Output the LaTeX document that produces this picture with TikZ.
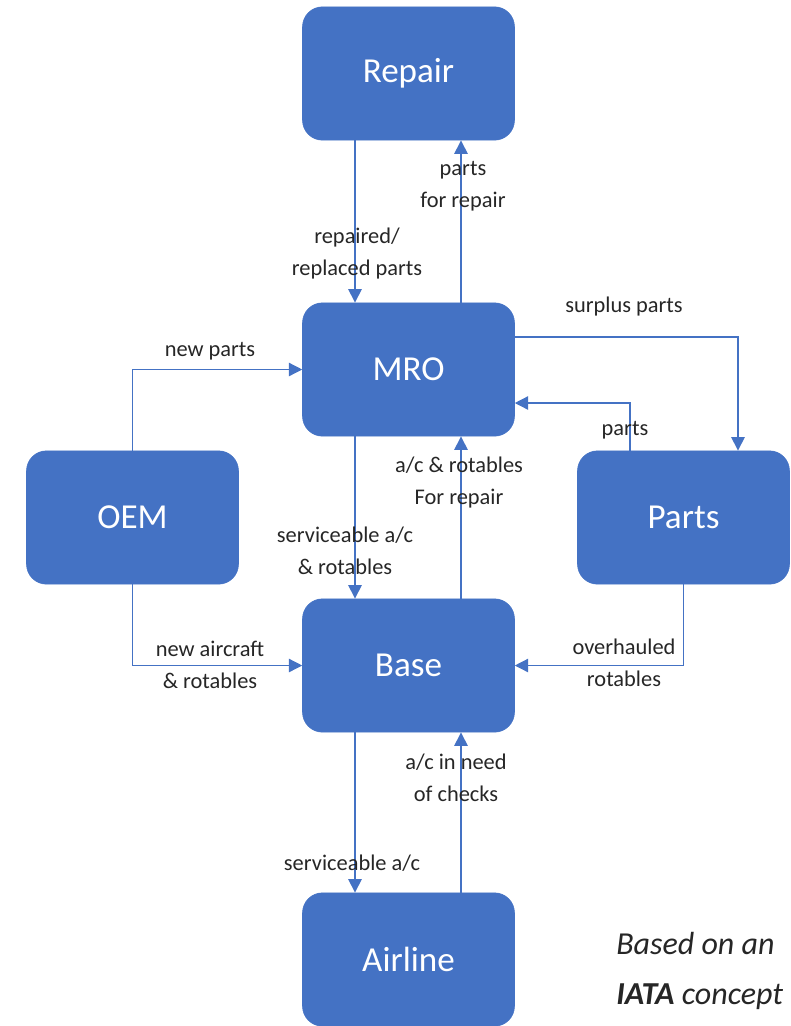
\documentclass[tikz,border=0pt]{standalone}
\usepackage{fontspec}
\setmainfont{Carlito}
\usetikzlibrary{arrows.meta}
\definecolor{boxblue}{HTML}{4472C4}
\definecolor{txtgrey}{HTML}{262626}

\tikzstyle{unit}=[fill=boxblue, draw=boxblue, rounded corners=15pt, minimum width=159pt, minimum height=100pt, text=white, font=\fontsize{26.3}{30}\selectfont]
\tikzstyle{flow}=[-{Triangle[width=10pt, length=10pt]}, draw=boxblue, line width=1pt]
\tikzstyle{lbl}=[text=txtgrey, align=center, inner sep=0pt, font=\fontsize{16.8}{24}\selectfont]

\begin{document}
\begin{tikzpicture}[x=0.75pt, y=-0.75pt]
    \useasboundingbox (0,0) rectangle (791,1026);
    \node[unit] (repair) at (408.5, 73.5) {Repair};
    \node[unit] (mro) at (408.5, 369.5) {MRO};
    \node[unit] (oem) at (132.5, 517.5) {OEM};
    \node[unit] (parts) at (683.5, 517.5) {Parts};
    \node[unit] (base) at (408.5, 665.5) {Base};
    \node[unit] (airline) at (408.5, 959.5) {Airline};
    \coordinate (down) at (355, 0);
    \coordinate (up) at (461, 0);
    \coordinate (surplus) at (738, 337);
    \coordinate (back) at (630, 403);
    \draw[flow] (repair.south -| down) -- (mro.north -| down);
    \draw[flow] (mro.north -| up) -- (repair.south -| up);
    \draw[flow] (mro.south -| down) -- (base.north -| down);
    \draw[flow] (base.north -| up) -- (mro.south -| up);
    \draw[flow] (base.south -| down) -- (airline.north -| down);
    \draw[flow] (airline.north -| up) -- (base.south -| up);
    \draw[flow] (mro.east |- surplus) -| (parts.north -| surplus);
    \draw[flow] (parts.north -| back) |- (mro.east |- back);
    \draw[flow] (oem) |- (mro);
    \draw[flow] (oem) |- (base);
    \draw[flow] (parts) |- (base);
    \node[lbl] (l-forrepair) at (463, 186) {parts\\for repair};
    \node[lbl] (l-repaired) at (357, 254) {repaired/\\replaced parts};
    \node[lbl] (l-surplus) at (624, 307) {surplus parts};
    \node[lbl] (l-parts) at (625, 430) {parts};
    \node[lbl] (l-newparts) at (210, 351) {new parts};
    \node[lbl] (l-rotrepair) at (459, 483) {a/c \& rotables\\For repair};
    \node[lbl] (l-service) at (345, 551) {serviceable a/c\\\& rotables};
    \node[lbl] (l-newac) at (210, 665) {new aircraft\\\& rotables};
    \node[lbl] (l-overhaul) at (624, 663) {overhauled\\rotables};
    \node[lbl] (l-checks) at (456, 778) {a/c in need\\of checks};
    \node[lbl] (l-serviceac) at (352, 863) {serviceable a/c};
    \node[lbl, align=left, anchor=west, font=\fontsize{24}{37.5}\selectfont\itshape] (note) at (616, 971) {Based on an\\\textbf{IATA} concept};
\end{tikzpicture}
\end{document}
